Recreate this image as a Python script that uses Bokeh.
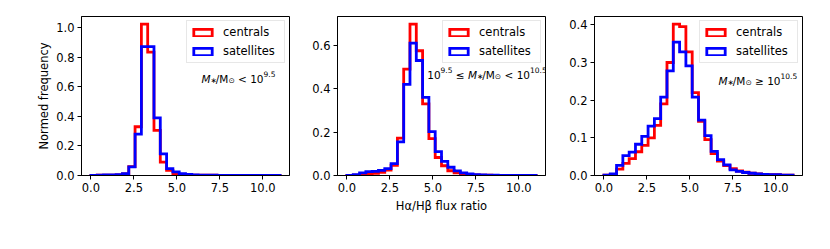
import numpy as np
from bokeh.plotting import figure
from bokeh.layouts import row
from bokeh.models import (Range1d, FixedTicker, PrintfTickFormatter, Label,
                          Legend, LegendItem)
from bokeh.embed import file_html
from bokeh.resources import INLINE

# ---------------- data ----------------
bin_lo, bin_hi, n_bins = 0.0, 11.0, 30
edges = np.linspace(bin_lo, bin_hi, n_bins + 1)

cen_low = [0.001, 0.002, 0.002, 0.003, 0.004, 0.010, 0.060, 0.330, 1.025, 0.835,
           0.305, 0.090, 0.035, 0.008, 0.004, 0.003, 0.002, 0.002, 0.002, 0.002,
           0.001, 0.001, 0.001, 0.001, 0.001, 0.001, 0.001, 0.001, 0.001, 0.001]
sat_low = [0.001, 0.002, 0.004, 0.004, 0.006, 0.012, 0.058, 0.280, 0.873, 0.873,
           0.390, 0.147, 0.046, 0.024, 0.012, 0.007, 0.004, 0.003, 0.002, 0.002,
           0.001, 0.001, 0.001, 0.001, 0.001, 0.001, 0.001, 0.001, 0.001, 0.001]

cen_mid = [0.001, 0.002, 0.003, 0.006, 0.010, 0.015, 0.025, 0.047, 0.172, 0.490,
           0.698, 0.575, 0.330, 0.170, 0.083, 0.045, 0.022, 0.012, 0.006, 0.004,
           0.003, 0.002, 0.002, 0.001, 0.001, 0.001, 0.001, 0.001, 0.001, 0.001]
sat_mid = [0.001, 0.004, 0.012, 0.018, 0.019, 0.024, 0.032, 0.055, 0.155, 0.420,
           0.610, 0.530, 0.360, 0.202, 0.110, 0.065, 0.038, 0.021, 0.012, 0.007,
           0.004, 0.003, 0.002, 0.002, 0.001, 0.001, 0.001, 0.001, 0.001, 0.001]

cen_high = [0.001, 0.003, 0.017, 0.032, 0.045, 0.063, 0.080, 0.100, 0.133, 0.190,
            0.300, 0.402, 0.395, 0.328, 0.220, 0.144, 0.095, 0.058, 0.038, 0.026,
            0.018, 0.012, 0.009, 0.006, 0.004, 0.003, 0.002, 0.002, 0.001, 0.001]
sat_high = [0.001, 0.004, 0.027, 0.053, 0.062, 0.083, 0.104, 0.131, 0.151, 0.208,
            0.278, 0.354, 0.328, 0.291, 0.208, 0.147, 0.106, 0.064, 0.042, 0.028,
            0.015, 0.011, 0.008, 0.006, 0.004, 0.003, 0.002, 0.002, 0.001, 0.001]

x_ticks = [0.0, 2.5, 5.0, 7.5, 10.0]
y_ticks_low = [0.0, 0.2, 0.4, 0.6, 0.8, 1.0]
y_ticks_mid = [0.0, 0.2, 0.4, 0.6]
y_ticks_high = [0.0, 0.1, 0.2, 0.3, 0.4]

labels = ["centrals", "satellites"]
colors = ["#ff0000", "#0000ff"]

FONT = "DejaVu Sans"
FS = "11.5px"
FW, FH = 208, 159
NB = "\u00a0"

# DejaVu Sans advance widths (em) for text-piece layout
EM = {'M': 0.863, 'H': 0.752, '/': 0.337, ' ': 0.318, NB: 0.318, '<': 0.838,
      '≤': 0.838, '≥': 0.838, '.': 0.318, '∗': 0.70, '⊙': 0.838}
for d in "0123456789":
    EM[d] = 0.636


def twidth(s, size):
    return sum(EM.get(c, 0.6) for c in s) * size


def make_fig(ymax_data, yticks, left, right, ylabel=None, xlabel=None):
    pad = 0.05 * (bin_hi - bin_lo)
    p = figure(frame_width=FW, frame_height=FH,
               x_range=Range1d(bin_lo - pad, bin_hi + pad),
               y_range=Range1d(0, 1.05 * ymax_data),
               output_backend="svg", toolbar_location=None,
               min_border_left=left, min_border_right=right,
               min_border_top=16, min_border_bottom=45)
    p.xgrid.visible = False
    p.ygrid.visible = False
    p.outline_line_color = "black"
    p.outline_line_width = 1
    p.outline_line_alpha = 1
    p.background_fill_color = "white"
    p.border_fill_color = "white"
    p.xaxis.ticker = FixedTicker(ticks=x_ticks)
    p.yaxis.ticker = FixedTicker(ticks=yticks)
    p.xaxis.formatter = PrintfTickFormatter(format="%.1f")
    p.yaxis.formatter = PrintfTickFormatter(format="%.1f")
    for ax in (p.xaxis[0], p.yaxis[0]):
        ax.axis_line_color = "black"
        ax.axis_line_width = 1
        ax.major_tick_line_color = "black"
        ax.major_tick_out = 4
        ax.major_tick_in = 0
        ax.minor_tick_line_color = None
        ax.major_label_text_font = FONT
        ax.major_label_text_font_size = FS
        ax.major_label_text_color = "black"
        ax.major_label_standoff = 3
        ax.axis_label_text_font = FONT
        ax.axis_label_text_font_size = FS
        ax.axis_label_text_font_style = "normal"
        ax.axis_label_text_color = "black"
    if ylabel:
        p.yaxis.axis_label = ylabel
        p.yaxis.axis_label_standoff = 2
    if xlabel:
        p.xaxis.axis_label = xlabel
        p.xaxis.axis_label_standoff = 4
    return p


def outline(vals):
    xs = np.repeat(edges, 2)
    ys = np.concatenate([[0.0], np.repeat(np.asarray(vals, float), 2), [0.0]])
    return xs, ys


def to_data(p, fx, fy):
    xr, yr = p.x_range, p.y_range
    x = xr.start + fx * (xr.end - xr.start) / FW
    y = yr.end - fy * (yr.end - yr.start) / FH
    return x, y


def add_pieces(p, pieces, fx, fy):
    x_px = fx
    for text, size, style, dy in pieces:
        x, y = to_data(p, x_px, fy - dy)
        p.add_layout(Label(x=x, y=y, text=text, text_font=FONT,
                           text_font_size=f"{size}px", text_font_style=style,
                           text_baseline="alphabetic", text_align="left",
                           text_color="black"))
        x_px += twidth(text, size)


def fill_panel(p, cen, sat):
    rends = []
    for vals, col in ((cen, colors[0]), (sat, colors[1])):
        xs, ys = outline(vals)
        p.line(xs, ys, line_color=col, line_width=2.8, line_join="miter")
    nan = [np.nan]
    for col in colors:
        r = p.quad(left=nan, right=nan, top=nan, bottom=nan,
                   fill_color="white", fill_alpha=0.0,
                   line_color=col, line_width=2.8, line_join="miter")
        rends.append(r)
    leg = Legend(items=[LegendItem(label=labels[i], renderers=[rends[i]])
                        for i in range(2)],
                 location="top_right", margin=4, padding=4, spacing=5,
                 glyph_width=23, glyph_height=9, label_standoff=9,
                 label_height=13, label_width=57,
                 label_text_font=FONT, label_text_font_size=FS,
                 label_text_color="black",
                 border_line_color="#d0d0d0", border_line_width=1,
                 background_fill_color="white", background_fill_alpha=0.8)
    p.add_layout(leg)


MS, SS = 10.5, 7.5  # main / script sizes
p1 = make_fig(max(max(cen_low), max(sat_low)), y_ticks_low, 81, 10,
              ylabel="Normed frequency")
fill_panel(p1, cen_low, sat_low)
add_pieces(p1, [("M", MS, "italic", 0), ("∗", SS, "normal", -2),
                ("/M", MS, "normal", 0), ("⊙", SS, "normal", -2),
                (NB + "<" + NB + "10", MS, "normal", 0), ("9.5", SS, "normal", 5)],
           120, 62.3)

p2 = make_fig(max(max(cen_mid), max(sat_mid)), y_ticks_mid, 38, 10,
              xlabel="Hα/Hβ flux ratio")
fill_panel(p2, cen_mid, sat_mid)
add_pieces(p2, [("10", MS, "normal", 0), ("9.5", SS, "normal", 5),
                (NB + "≤" + NB, MS, "normal", 0), ("M", MS, "italic", 0),
                ("∗", SS, "normal", -2), ("/M", MS, "normal", 0),
                ("⊙", SS, "normal", -2), (NB + "<" + NB + "10", MS, "normal", 0),
                ("10.5", SS, "normal", 5)],
           89.7, 58)

p3 = make_fig(max(max(cen_high), max(sat_high)), y_ticks_high, 39, 10)
fill_panel(p3, cen_high, sat_high)
add_pieces(p3, [("M", MS, "italic", 0), ("∗", SS, "normal", -2),
                ("/M", MS, "normal", 0), ("⊙", SS, "normal", -2),
                (NB + "≥" + NB + "10", MS, "normal", 0), ("10.5", SS, "normal", 5)],
           124, 64)

layout = row(p1, p2, p3)
open("out.html", "w").write(file_html(layout, INLINE))
